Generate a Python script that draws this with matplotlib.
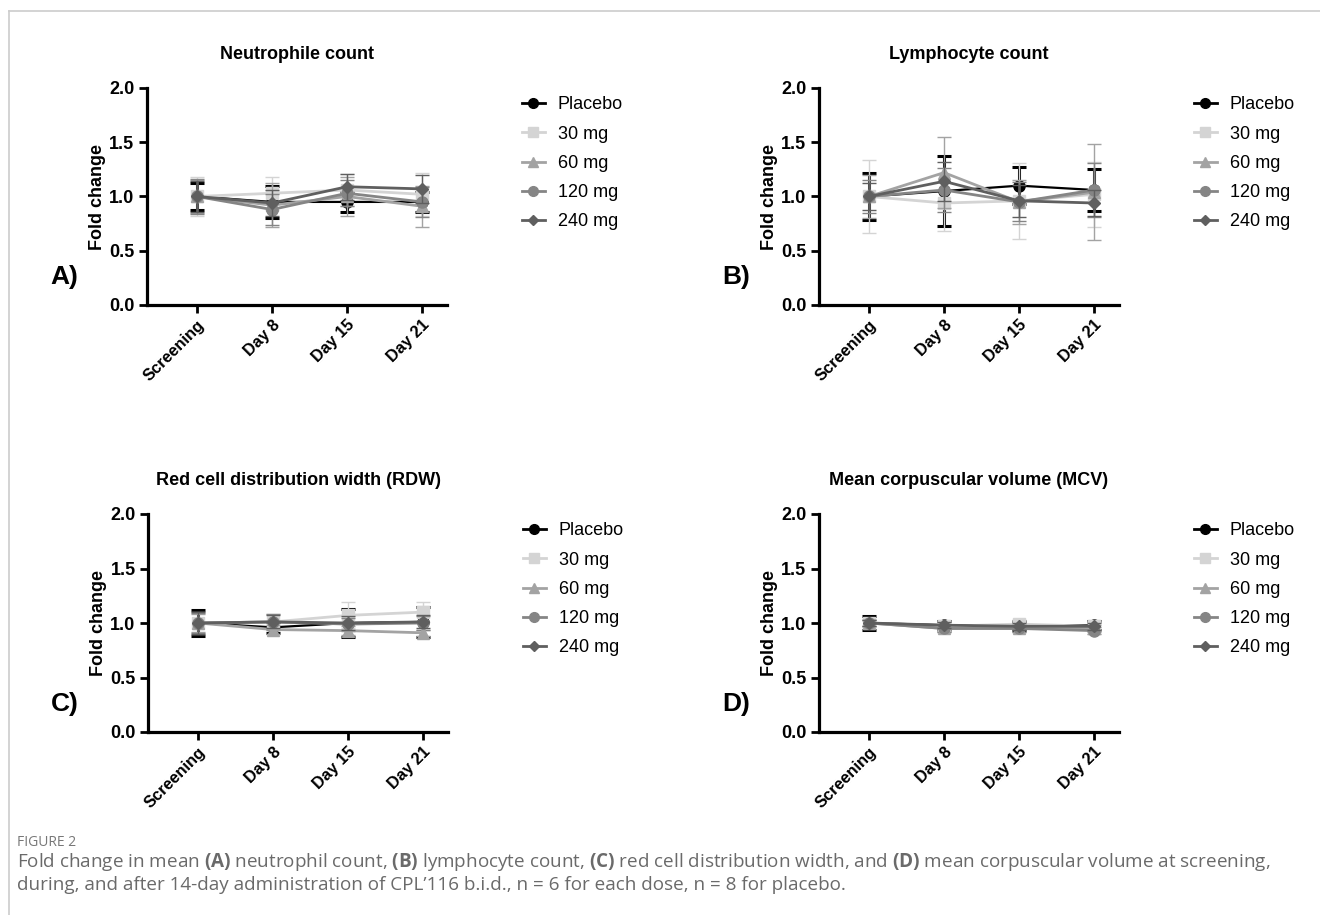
import numpy as np
import matplotlib
matplotlib.use("Agg")
import matplotlib.pyplot as plt
from matplotlib.lines import Line2D

plt.rcParams["font.family"] = ["Liberation Sans", "DejaVu Sans"]
plt.rcParams["mathtext.fontset"] = "custom"
plt.rcParams["mathtext.rm"] = "Open Sans"
plt.rcParams["mathtext.bf"] = "Open Sans:bold"

timepoints = ["Screening", "Day 8", "Day 15", "Day 21"]
groups = ["Placebo", "30 mg", "60 mg", "120 mg", "240 mg"]
colors = ["#000000", "#d4d4d4", "#a3a3a3", "#858585", "#5f5f5f"]
markers = ["o", "s", "^", "o", "D"]

# Neutrophile count
neu_mean = [
    [1.0, 0.95, 0.95, 0.95],
    [1.0, 1.03, 1.06, 1.02],
    [1.0, 0.92, 1.00, 0.91],
    [1.0, 0.88, 1.03, 0.95],
    [1.0, 0.94, 1.09, 1.07],
]
neu_err = [
    [0.12, 0.15, 0.09, 0.09],
    [0.18, 0.15, 0.15, 0.20],
    [0.15, 0.20, 0.18, 0.19],
    [0.16, 0.14, 0.12, 0.14],
    [0.14, 0.12, 0.12, 0.13],
]

# Lymphocyte count
lym_mean = [
    [1.0, 1.05, 1.10, 1.06],
    [1.0, 0.94, 0.96, 1.02],
    [1.0, 1.22, 0.95, 1.04],
    [1.0, 1.06, 0.95, 1.06],
    [1.0, 1.14, 0.96, 0.94],
]
lym_err = [
    [0.22, 0.32, 0.17, 0.19],
    [0.34, 0.26, 0.35, 0.30],
    [0.20, 0.33, 0.20, 0.44],
    [0.15, 0.20, 0.18, 0.25],
    [0.12, 0.18, 0.15, 0.12],
]

# RDW
rdw_mean = [
    [1.0, 0.96, 1.00, 1.01],
    [1.0, 1.01, 1.07, 1.10],
    [1.0, 0.94, 0.93, 0.91],
    [1.0, 1.01, 0.99, 1.00],
    [1.0, 1.01, 1.00, 1.01],
]
rdw_err = [
    [0.12, 0.05, 0.13, 0.14],
    [0.10, 0.07, 0.12, 0.09],
    [0.08, 0.04, 0.04, 0.03],
    [0.09, 0.07, 0.06, 0.06],
    [0.10, 0.06, 0.06, 0.06],
]

# MCV
mcv_mean = [
    [1.0, 0.98, 0.98, 0.98],
    [1.0, 0.97, 0.99, 0.97],
    [1.0, 0.95, 0.95, 0.95],
    [1.0, 0.95, 0.95, 0.93],
    [1.0, 0.98, 0.97, 0.97],
]
mcv_err = [
    [0.06, 0.04, 0.04, 0.04],
    [0.04, 0.04, 0.04, 0.04],
    [0.03, 0.03, 0.03, 0.03],
    [0.03, 0.03, 0.03, 0.03],
    [0.03, 0.03, 0.03, 0.03],
]

panels = [
    ("Neutrophile count", "A)", neu_mean, neu_err),
    ("Lymphocyte count", "B)", lym_mean, lym_err),
    ("Red cell distribution width (RDW)", "C)", rdw_mean, rdw_err),
    ("Mean corpuscular volume (MCV)", "D)", mcv_mean, mcv_err),
]

W, H = 1320, 915
fig = plt.figure(figsize=(13.2, 9.15), dpi=100)

# axes boxes in pixels: left, top(y=2.0), bottom(y=0)
boxes = [(147, 88, 305), (819, 88, 305), (148, 514, 732), (819, 514, 732)]
ax_w = 300

x = np.arange(len(timepoints))
for (title, tag, means, errs), (lx, ty, by) in zip(panels, boxes):
    ax = fig.add_axes([lx / W, 1 - by / H, ax_w / W, (by - ty) / H])
    for i in range(5):
        ax.errorbar(x, means[i], yerr=errs[i], color=colors[i], marker=markers[i],
                    ms=8 if markers[i] != "D" else 6.5,
                    lw=1.6 if i == 0 else 2.0,
                    elinewidth=2.2 if i == 0 else 1.0,
                    capsize=5, capthick=2.2 if i == 0 else 1.0,
                    zorder=2 + i * 0.1)
    ax.set_xlim(-0.667, 3.333)
    ax.set_ylim(0, 2.0)
    ax.set_yticks([0, 0.5, 1.0, 1.5, 2.0])
    ax.set_yticklabels(["0.0", "0.5", "1.0", "1.5", "2.0"])
    ax.set_xticks(x)
    ax.set_xticklabels(timepoints, rotation=45, ha="right", rotation_mode="anchor")
    for s in ["top", "right"]:
        ax.spines[s].set_visible(False)
    for s in ["left", "bottom"]:
        ax.spines[s].set_linewidth(2.3)
    ax.tick_params(width=2.0, length=6, pad=3)
    ax.tick_params(axis="y", labelsize=13)
    ax.tick_params(axis="x", labelsize=11.8)
    for lab in ax.get_xticklabels() + ax.get_yticklabels():
        lab.set_fontweight("bold")
    ax.set_ylabel("Fold change", fontsize=13, fontweight="bold", labelpad=2)
    ax.set_title(title, fontsize=13, fontweight="bold", pad=21)
    fig.text((lx - 97) / W, 1 - (by - 28) / H, tag, fontsize=19, fontweight="bold",
             va="center", ha="left")

    handles = [Line2D([0], [0], color=colors[i], marker=markers[i], lw=2,
                      ms=7 if markers[i] != "D" else 5.5) for i in range(5)]
    ax.legend(handles, groups, loc="upper left", bbox_to_anchor=(1.225, 0.995),
              frameon=False, fontsize=13, handlelength=1.3, handletextpad=0.7,
              labelspacing=0.68, borderaxespad=0)

# thin page frame
fig.add_artist(Line2D([9 / W, 1], [1 - 11 / H, 1 - 11 / H], color="#cccccc", lw=1.2))
fig.add_artist(Line2D([9 / W, 9 / W], [0, 1 - 11 / H], color="#cccccc", lw=1.2))

fig.text(17 / W, 1 - 842 / H, "FIGURE 2", fontsize=10, color="#777777", va="center",
         family="Open Sans")
cap1 = ("Fold change in mean $\\bf{(A)}$ neutrophil count, $\\bf{(B)}$ lymphocyte count, "
        "$\\bf{(C)}$ red cell distribution width, and $\\bf{(D)}$ mean corpuscular volume at screening,")
cap2 = ("during, and after 14-day administration of CPL\u2019116 b.i.d., n = 6 for each dose, "
        "n = 8 for placebo.")
t1 = fig.text(17 / W, 1 - 862 / H, cap1, fontsize=12, color="#6a6a6a", va="center",
              family="Open Sans")
t2 = fig.text(17 / W, 1 - 885 / H, cap2, fontsize=12, color="#6a6a6a", va="center",
              family="Open Sans")

# fit caption line to the page width
r = fig.canvas.get_renderer()
w1 = t1.get_window_extent(r).width
fs = 12 * 1250 / w1
t1.set_fontsize(fs)
t2.set_fontsize(fs)

fig.savefig("out.png", dpi=100)
